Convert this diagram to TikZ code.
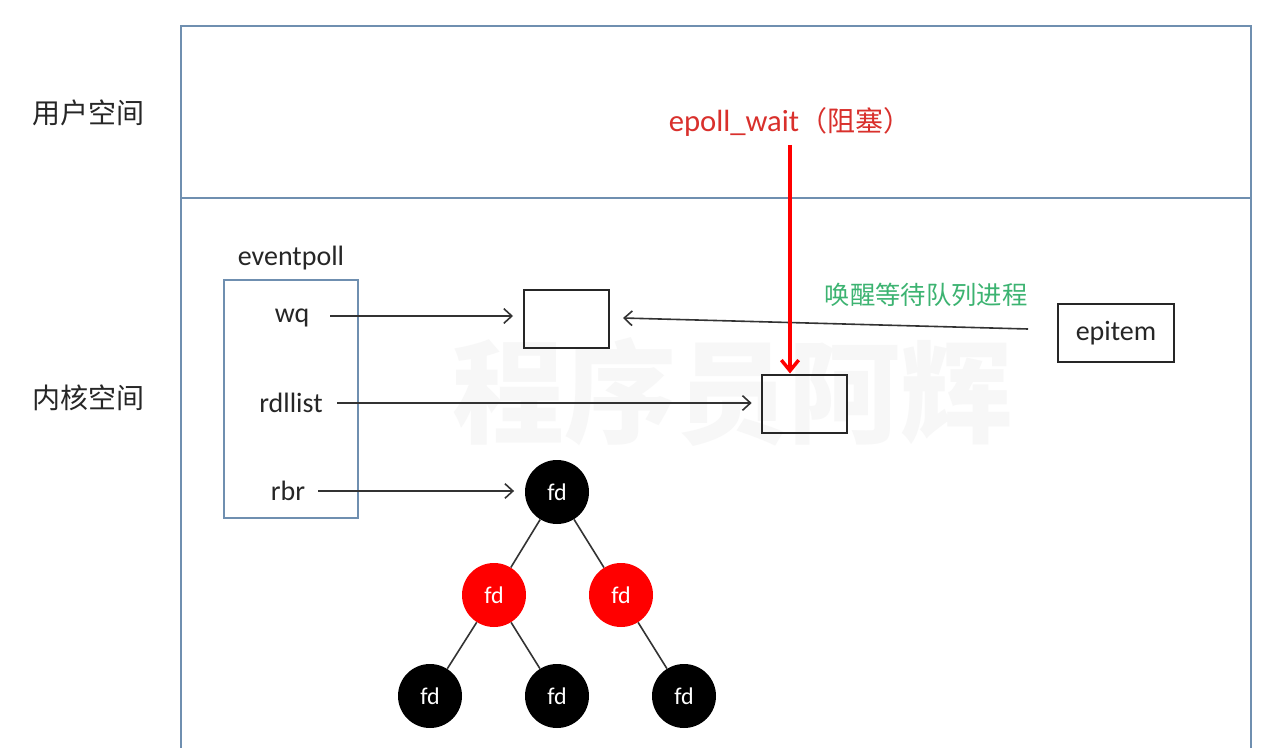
\documentclass[tikz,border=0pt]{standalone}
\usepackage{fontspec}
\setmainfont{Carlito}
\newfontfamily\cjk{Noto Sans CJK SC}
\usetikzlibrary{arrows.meta}
\definecolor{frameblue}{HTML}{6F8FB0}
\definecolor{redtxt}{HTML}{D9302C}
\definecolor{greentxt}{HTML}{3CB371}
\definecolor{linegray}{HTML}{333333}
\tikzset{
  px/.style={x=0.75pt,y=-0.75pt},
  frame/.style={draw=frameblue,line width=1.5pt},
  lbl/.style={font=\fontsize{21}{24}\selectfont,text=black!85,inner sep=0pt},
  cjklbl/.style={font=\cjk\fontsize{21}{24}\selectfont,text=black!85,inner sep=0pt},
  plainbox/.style={draw=black!85,line width=1.5pt,minimum width=63.75pt,minimum height=43.5pt,inner sep=0pt},
  conn/.style={draw=linegray,line width=1.2pt,-{Straight Barb[length=6pt,width=11pt,line width=1.2pt]}},
  edge/.style={draw=linegray,line width=1.2pt},
  fdnode/.style={circle,minimum size=48pt,inner sep=0pt,text=white,font=\fontsize{18}{20}\selectfont},
  blk/.style={fdnode,fill=black},
  rd/.style={fdnode,fill=red}
}
\begin{document}
\begin{tikzpicture}[px]
\useasboundingbox (0,0) rectangle (1273,748);
\fill[white] (0,0) rectangle (1273,748);
% watermark
\node[font=\cjk\bfseries\fontsize{84}{90}\selectfont,text=black!3,inner sep=0pt] (wm) at (732,392) {程序员阿辉};
% frame
\coordinate (ftl) at (181,26);
\coordinate (ftr) at (1251,26);
\coordinate (fbl) at (181,748);
\coordinate (fbr) at (1251,748);
\coordinate (dl) at (181,198);
\coordinate (dr) at (1251,198);
\draw[frame] (fbl) -- (ftl) -- (ftr) -- (fbr);
\draw[frame] (dl) -- (dr);
% side labels
\node[cjklbl] (user) at (88,113) {用户空间};
\node[cjklbl] (kernel) at (88,398) {内核空间};
% epoll_wait
\node[inner sep=0pt,text=redtxt] (ew) at (790,122) {\fontsize{23}{26}\selectfont epoll\_wait\cjk\fontsize{21}{24}\selectfont （阻塞）};
% eventpoll
\node[lbl] (evlabel) at (291,258) {eventpoll};
\node[draw=frameblue,line width=1.1pt,minimum width=100.5pt,minimum height=178.5pt,inner sep=0pt] (ev) at (291,399) {};
\node[lbl] (wq) at (292,318) {wq};
\node[lbl] (rdl) at (291,403) {rdllist};
\node[lbl] (rbr) at (288,491) {rbr};
% boxes
\node[plainbox] (b1) at (566.5,319) {};
\node[plainbox] (b2) at (804.5,403.5) {};
\node[plainbox,minimum width=87pt,font=\fontsize{21}{24}\selectfont,text=black!85] (epi) at (1116,333) {epitem};
% green label
\node[font=\cjk\fontsize{19}{22}\selectfont,text=greentxt,inner sep=0pt] (wake) at (926,295) {唤醒等待队列进程};
% tree
\node[blk] (r) at (557,492) {fd};
\node[rd] (l1) at (494,595) {fd};
\node[rd] (r1) at (621,595) {fd};
\node[blk] (ll) at (430,696) {fd};
\node[blk] (lr) at (557,696) {fd};
\node[blk] (rr) at (684,696) {fd};
\draw[edge] (r) -- (l1);
\draw[edge] (r) -- (r1);
\draw[edge] (l1) -- (ll);
\draw[edge] (l1) -- (lr);
\draw[edge] (r1) -- (rr);
% connectors
\coordinate (wqs) at (330,316);
\coordinate (rdls) at (337,403);
\coordinate (rbrs) at (318,491);
\coordinate (epis) at (1028,329);
\draw[conn] (wqs) -- ([xshift=-7.5pt]b1.west |- wqs);
\draw[conn] (rdls) -- ([xshift=-7pt]b2.west |- rdls);
\draw[conn] (rbrs) -- ([xshift=-8pt]r.west |- rbrs);
\coordinate (epit) at (623,318);
\draw[conn] (epis) -- (epit);
\coordinate (ews) at (790,145);
\draw[draw=red,line width=2.6pt,-{Straight Barb[length=8pt,width=13pt,line width=2.6pt]}] (ews) -- (b2.north -| ews);
\end{tikzpicture}
\end{document}
